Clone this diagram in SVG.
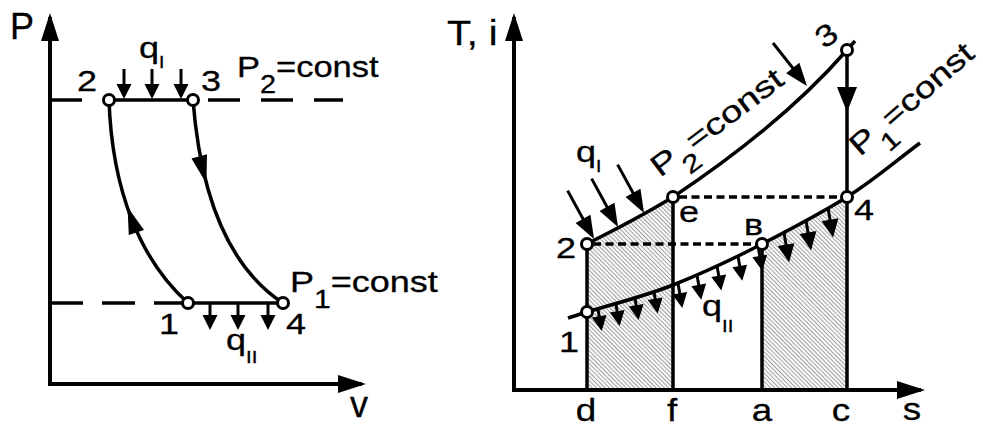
<svg xmlns="http://www.w3.org/2000/svg" width="983" height="428" viewBox="0 0 983 428">
<style>
 .ln{fill:none;stroke:#000;stroke-width:3.5}
 .ax{fill:none;stroke:#000;stroke-width:4}
 .sh{fill:none;stroke:#000;stroke-width:3}
 .pt{fill:#fff;stroke:#000;stroke-width:3}
 .dot{fill:none;stroke:#000;stroke-width:3.5;stroke-dasharray:8 4.5}
 .hatch{fill:url(#hatch);stroke:none}
 .ah{fill:#000;stroke:none}
 text{font-family:"Liberation Sans",Arial,sans-serif;fill:#000;stroke:#000;stroke-width:0.3}
 .l{font-size:30px}
 .big{font-size:36px}
 .ax-l{font-size:32px}
</style>
<defs>
 <pattern id="hatch" width="3" height="3" patternUnits="userSpaceOnUse" patternTransform="rotate(-45)">
  <rect width="3" height="3" fill="#fff"/>
  <line x1="0.6" y1="0" x2="0.6" y2="3" stroke="#8c8c8c" stroke-width="0.9"/>
 </pattern>
 <marker id="mA" viewBox="-25 -10 30 20" refX="0" refY="0" markerWidth="30" markerHeight="20" markerUnits="userSpaceOnUse" orient="auto-start-reverse"><path d="M4,0 L-24,-9 L-24,9 Z"/></marker>
 <marker id="mS" viewBox="-12 -9 17 18" refX="0" refY="0" markerWidth="17" markerHeight="18" markerUnits="userSpaceOnUse" orient="auto"><path d="M4,0 L-11,-7.5 L-11,7.5 Z"/></marker>
 <marker id="mM" viewBox="-15 -10 20 20" refX="0" refY="0" markerWidth="20" markerHeight="20" markerUnits="userSpaceOnUse" orient="auto"><path d="M4,0 L-14,-8.5 L-14,8.5 Z"/></marker>
 <marker id="mL" viewBox="-20 -10 25 20" refX="0" refY="0" markerWidth="25" markerHeight="20" markerUnits="userSpaceOnUse" orient="auto"><path d="M4,0 L-19,-8.5 L-19,8.5 Z"/></marker>
</defs>

<!-- ===== P-v diagram ===== -->
<g id="pv-axes">
 <path class="ax" d="M50,17 V384 H362" marker-start="url(#mA)" marker-end="url(#mA)"/>
 <text class="big" x="10" y="39">P</text>
 <text class="big" x="359" y="417" text-anchor="middle">v</text>
</g>

<g id="pv-connectors">
 <path class="ln" d="M50,100 H82"/>
 <path class="ln" d="M109,100 H193"/>
 <path class="ln" d="M208,100 H343" stroke-dasharray="32 21"/>
 <path class="ln" d="M50,303 H188" stroke-dasharray="33 19"/>
 <path class="ln" d="M188,303 H283"/>
 <path class="ln" d="M109,100 C112,190 140,260 188,303"/>
 <path class="ln" d="M193,100 C200,190 225,265 283,303"/>
 <polygon class="ah" points="127.5,207 144,229.9 128.8,235.1"/>
 <polygon class="ah" points="206.4,183.4 191.5,158.4 207,154.3"/>
 <path class="sh" d="M124,69 V95" marker-end="url(#mS)"/>
 <path class="sh" d="M152,69 V95" marker-end="url(#mS)"/>
 <path class="sh" d="M181,69 V95" marker-end="url(#mS)"/>
 <path class="sh" d="M210,303 V326" marker-end="url(#mS)"/>
 <path class="sh" d="M238,303 V326" marker-end="url(#mS)"/>
 <path class="sh" d="M268,303 V326" marker-end="url(#mS)"/>
</g>

<g id="pv-pt2"><circle class="pt" cx="109" cy="100" r="5.5"/><text class="l" transform="translate(77,91) scale(1.2,1)">2</text></g>
<g id="pv-pt3"><circle class="pt" cx="193" cy="100" r="5.5"/><text class="l" transform="translate(201,91) scale(1.2,1)">3</text></g>
<g id="pv-pt1"><circle class="pt" cx="188" cy="303" r="5.5"/><text class="l" transform="translate(159,334) scale(1.2,1)">1</text></g>
<g id="pv-pt4"><circle class="pt" cx="283" cy="303" r="5.5"/><text class="l" transform="translate(286,334) scale(1.2,1)">4</text></g>

<g id="pv-labels">
 <text class="l" transform="translate(139,58) scale(1.2,1)">q<tspan font-size="16" dy="10">I</tspan></text>
 <text class="l" transform="translate(226,350) scale(1.2,1)">q<tspan font-size="17" dy="13">II</tspan></text>
 <text class="l" transform="translate(237,77) scale(1.15,1)">P<tspan font-size="25" dy="16">2</tspan><tspan dy="-16">=const</tspan></text>
 <text class="l" transform="translate(290,292) scale(1.2,1)">P<tspan font-size="25" dy="16">1</tspan><tspan dy="-16">=const</tspan></text>
</g>

<!-- ===== T-s diagram ===== -->
<g id="ts-areas">
 <path class="hatch" d="M587,390 L587,244 C607,233.4 637,219 673,197 L673,390 Z"/>
 <path class="hatch" d="M762,390 L762,244 C791,229 820.3,213.7 847,197 L847,390 Z"/>
</g>

<g id="ts-axes">
 <path class="ax" d="M514,17 V390 H921" marker-start="url(#mA)" marker-end="url(#mA)"/>
 <text class="big" transform="translate(447,45) scale(1.1,1)">T, i</text>
 <text class="ax-l" transform="translate(912,420) scale(1.15,1)" text-anchor="middle">s</text>
 <text class="ax-l" transform="translate(586,421) scale(1.15,1)" text-anchor="middle">d</text>
 <text class="ax-l" transform="translate(672,421) scale(1.15,1)" text-anchor="middle">f</text>
 <text class="ax-l" transform="translate(762,421) scale(1.15,1)" text-anchor="middle">a</text>
 <text class="ax-l" transform="translate(841,421) scale(1.15,1)" text-anchor="middle">c</text>
</g>

<g id="ts-connectors">
 <path class="ln" d="M587,390 V244"/>
 <path class="ln" d="M673,390 V197"/>
 <path class="ln" d="M762,390 V244"/>
 <path class="ln" d="M847,390 V50"/>
 <polygon class="ah" points="847,112 837,87 857,87"/>
 <path class="dot" d="M593,244 H756"/>
 <path class="dot" d="M679,197 H841"/>
 <path class="ln" d="M587,244 C607,233.4 637,219 673,197 C727,161 793,112 847,50 L855,41"/>
 <path class="ln" d="M568,318 C574,316 581,314 587,312 C604.5,306.5 644.2,296.5 673,285 C701.8,273.5 733,259 762,244 C791,229 820.3,213.7 847,197 C873.7,180.3 895.7,161 920,143"/>
 <!-- q_I arrows -->
 <path class="sh" d="M567.6,190.6 L592.1,235.5" marker-end="url(#mL)"/>
 <path class="sh" d="M591.6,178.6 L616.1,223.5" marker-end="url(#mL)"/>
 <path class="sh" d="M617.6,164.6 L642.1,209.5" marker-end="url(#mL)"/>
 <path class="sh" d="M773,43 L804.5,82.9" marker-end="url(#mL)"/>
 <!-- q_II arrows -->
 <path class="sh" d="M598,309.5 L601,327" marker-end="url(#mS)"/>
 <path class="sh" d="M616,304.4 L619,322" marker-end="url(#mS)"/>
 <path class="sh" d="M635,298.4 L638,316" marker-end="url(#mS)"/>
 <path class="sh" d="M654,292 L657,309.6" marker-end="url(#mS)"/>
 <path class="sh" d="M678,283.2 L681.6,304" marker-end="url(#mS)"/>
 <path class="sh" d="M697,274.9 L700.6,295.7" marker-end="url(#mS)"/>
 <path class="sh" d="M717,265.7 L720.6,286.5" marker-end="url(#mS)"/>
 <path class="sh" d="M738,256 L741.6,276.8" marker-end="url(#mS)"/>
 <path class="sh" d="M758,246 L761.6,266.8" marker-end="url(#mS)"/>
 <path class="sh" d="M784,232.8 L788.4,258.4" marker-end="url(#mM)"/>
 <path class="sh" d="M806,220.7 L810.4,246.3" marker-end="url(#mM)"/>
 <path class="sh" d="M828,208 L832.4,233.6" marker-end="url(#mM)"/>
</g>

<g id="ts-pt1"><circle class="pt" cx="587" cy="312" r="5.5"/><text class="l" transform="translate(559,352) scale(1.2,1)">1</text></g>
<g id="ts-pt2"><circle class="pt" cx="587" cy="244" r="5.5"/><text class="l" transform="translate(556,258) scale(1.2,1)">2</text></g>
<g id="ts-pte"><circle class="pt" cx="673" cy="197" r="5.5"/><text class="l" transform="translate(679,222) scale(1.2,1)">e</text></g>
<g id="ts-ptv"><circle class="pt" cx="762" cy="244" r="5.5"/><text class="l" transform="translate(744,235) scale(1.2,1)">в</text></g>
<g id="ts-pt4"><circle class="pt" cx="847" cy="197" r="5.5"/><text class="l" transform="translate(854,220) scale(1.2,1)">4</text></g>
<g id="ts-pt3"><circle class="pt" cx="847" cy="50" r="5.5"/><text class="l" transform="translate(826,35) rotate(-35) scale(1.2,1)" x="0" y="10.7" text-anchor="middle">3</text></g>

<g id="ts-labels">
 <text class="l" transform="translate(576,162) scale(1.2,1)">q<tspan font-size="16" dy="10">I</tspan></text>
 <text class="l" transform="translate(702,316) scale(1.2,1)">q<tspan font-size="17" dy="16">II</tspan></text>
 <text class="l" transform="translate(660,178) rotate(-37) scale(1.28,1)">P<tspan font-size="25" dy="16">2</tspan><tspan dy="-16">=const</tspan></text>
 <text class="l" transform="translate(860,157) rotate(-41) scale(1.25,1)">P<tspan font-size="25" dy="16">1</tspan><tspan dy="-16">=const</tspan></text>
</g>
</svg>
